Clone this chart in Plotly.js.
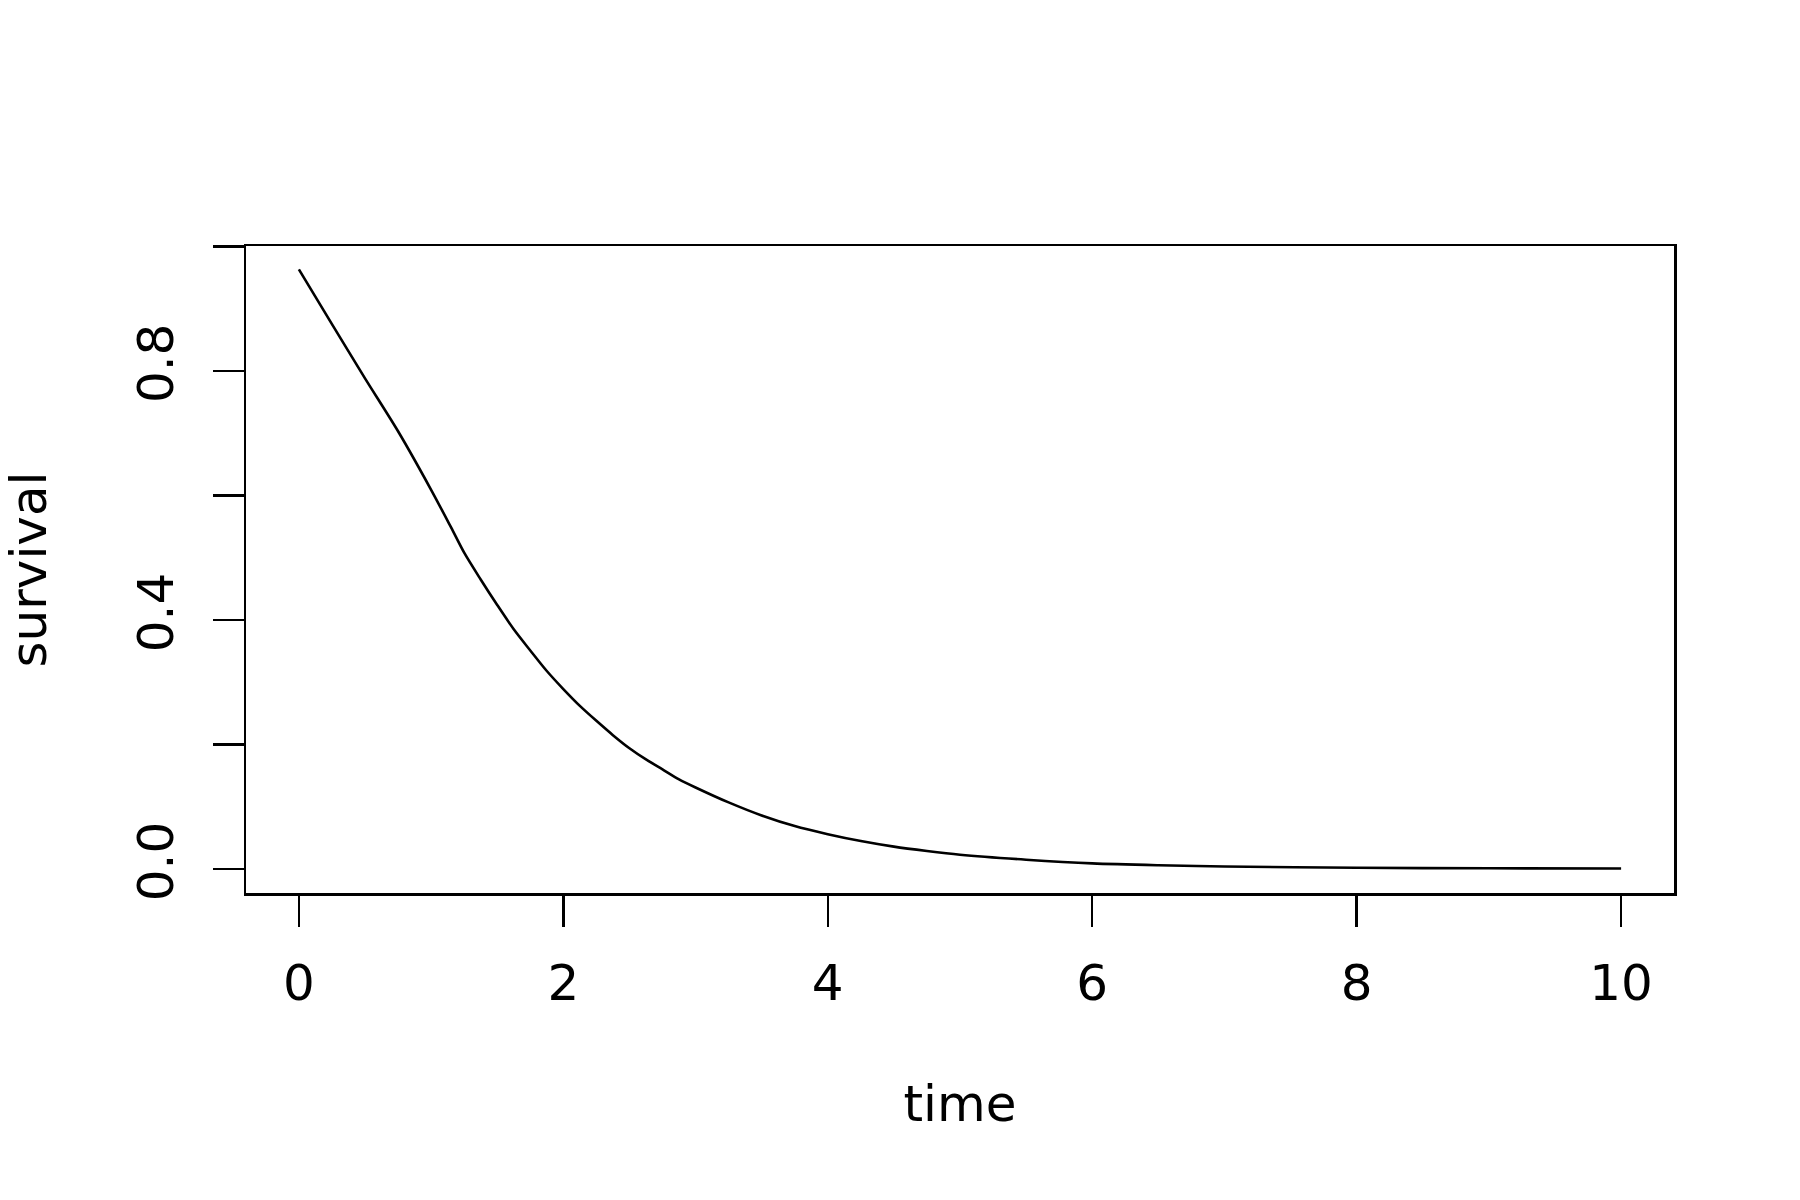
<!DOCTYPE html>
<html>
<head>
<meta charset="utf-8">
<script src="https://cdn.plot.ly/plotly-3.0.1.min.js"></script>
<style>
  html, body { margin:0; padding:0; background:#fff; }
  #plot { width:1800px; height:1200px; }
</style>
</head>
<body>
<div id="plot"></div>
<script>
// --- Data ---
const time = [0, 0.25, 0.5, 0.75, 1.0, 1.15, 1.25, 1.375, 1.5, 1.625, 1.75, 1.875, 2.0, 2.125, 2.25, 2.375, 2.5, 2.625, 2.75, 2.875, 3.0,
              3.25, 3.5, 3.75, 4.0, 4.25, 4.5, 4.75, 5.0, 5.5, 6.0, 6.5, 7.0, 8.0, 9.0, 10.0];
const survival = [0.963, 0.875, 0.788, 0.703, 0.609, 0.549, 0.508, 0.465, 0.424, 0.385, 0.351, 0.318, 0.289, 0.262, 0.238, 0.215, 0.194, 0.176, 0.160, 0.144, 0.131,
                  0.107, 0.086, 0.069, 0.056, 0.045, 0.036, 0.029, 0.023, 0.015, 0.009, 0.006, 0.004, 0.002, 0.0012, 0.0008];

const yTickVals = [0, 0.2, 0.4, 0.6, 0.8, 1.0];
const yTickText = ['0.0', '', '0.4', '', '0.8', ''];
const xTickVals = [0, 2, 4, 6, 8, 10];

const font = { family: 'DejaVu Sans, sans-serif', size: 50, color: '#000' };

const trace = {
  x: time, y: survival, type: 'scatter', mode: 'lines',
  line: { color: '#000', width: 2.6, shape: 'spline', smoothing: 0.8 },
  hoverinfo: 'skip'
};

const layout = {
  width: 1800, height: 1200,
  margin: { l: 246, r: 126, t: 246, b: 307 },
  paper_bgcolor: '#fff', plot_bgcolor: '#fff',
  showlegend: false,
  font: font,
  xaxis: {
    range: [-0.4, 10.4], tickmode: 'array', tickvals: xTickVals,
    ticks: 'outside', ticklen: 31, tickwidth: 2.5, tickcolor: '#000',
    showline: true, linecolor: '#000', linewidth: 2.5, mirror: true,
    showgrid: false, zeroline: false, automargin: false,
    tickfont: font, ticklabelstandoff: 13,
    title: { text: 'time', font: font, standoff: 76 }
  },
  yaxis: {
    range: [-0.0385, 1.0005], tickmode: 'array', tickvals: yTickVals, ticktext: yTickText,
    ticks: 'outside', ticklen: 31, tickwidth: 2.5, tickcolor: '#000', tickangle: -90,
    showline: true, linecolor: '#000', linewidth: 2.5, mirror: true,
    showgrid: false, zeroline: false, automargin: false,
    tickfont: font, ticklabelstandoff: 20,
    title: { text: 'survival', font: font, standoff: 66 }
  }
};

Plotly.newPlot('plot', [trace], layout, { staticPlot: true });
</script>
</body>
</html>
